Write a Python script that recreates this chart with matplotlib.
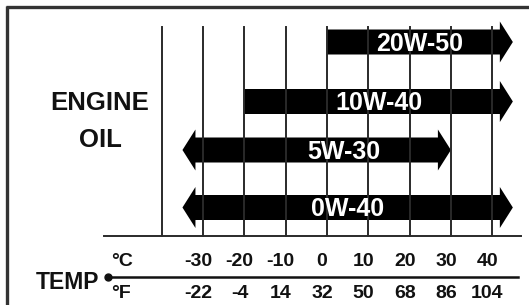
import matplotlib
matplotlib.use("Agg")
import matplotlib.pyplot as plt

# oil grades and their temperature ranges (deg C)
grades = ["20W-50", "10W-40", "5W-30", "0W-40"]
low_c = [0, -20, -35, -35]
high_c = [45, 45, 30, 45]
left_arrow = [False, False, True, True]

grid_c = [-40, -30, -20, -10, 0, 10, 20, 30, 40]
c_ticks = [-30, -20, -10, 0, 10, 20, 30, 40]
c_labels = ["-30", "-20", "-10", "0", "10", "20", "30", "40"]
f_labels = ["-22", "-4", "14", "32", "50", "68", "86", "104"]

W, H = 529, 305
PX0, PXC = 327.0, 4.13   # pixel x of 0 C, pixels per degree

sans = "Liberation Sans"

fig = plt.figure(figsize=(W / 100, H / 100), dpi=100)
ax = fig.add_axes([0, 0, 1, 1])
ax.set_xlim((0 - PX0) / PXC, (W - PX0) / PXC)
ax.set_ylim(H, 0)
ax.axis("off")

def px(x):
    return (x - PX0) / PXC

ink = "#111111"
line = "#2a2a2a"

# frame (top and left edges)
ax.plot([px(6), px(W)], [6.5, 6.5], color="#333333", lw=2.4, solid_capstyle="butt")
ax.plot([px(6.5), px(6.5)], [6, H], color="#333333", lw=2.4, solid_capstyle="butt")

# grid lines
for c in grid_c:
    ax.plot([c, c], [27, 236], color=line, lw=1.4)
ax.plot([px(104), px(521)], [236, 236], color=line, lw=1.4)

# arrows
bar_y = [42, 101.5, 150, 207.5]
half_bar, half_head = 12.5, 20.5
head = 13 / PXC
label_nudge = {"5W-30": 6.5}
for g, lo, hi, la, y in zip(grades, low_c, high_c, left_arrow, bar_y):
    xs = [hi - head, hi - head, hi, hi - head, hi - head]
    ys = [y - half_bar, y - half_head, y, y + half_head, y + half_bar]
    if la:
        xs += [lo + head, lo + head, lo, lo + head, lo + head]
        ys += [y + half_bar, y + half_head, y, y - half_head, y - half_bar]
    else:
        xs += [lo, lo]
        ys += [y + half_bar, y - half_bar]
    ax.fill(xs, ys, color="black", lw=0)
    xm = (lo + hi) / 2 + label_nudge.get(g, 0)
    ax.text(xm, y + 9, g, color="white", fontsize=18, fontweight="bold",
            family=sans, ha="center", va="baseline")

# left titles
ax.text(px(100), 110, "ENGINE", fontsize=18.5, fontweight="bold", family=sans,
        color=ink, ha="center", va="baseline")
ax.text(px(100), 147, "OIL", fontsize=18.5, fontweight="bold", family=sans,
        color=ink, ha="center", va="baseline")

# temperature scale
ax.plot([px(108), px(518)], [276.7, 276.7], color=ink, lw=1.8)
ax.plot([px(108)], [276.7], "o", color=ink, ms=5)
ax.text(px(36), 289, "TEMP", fontsize=16.5, fontweight="bold", family=sans,
        color=ink, ha="left", va="baseline")
ax.text(px(111), 266.5, "°C", fontsize=14, fontweight="bold", family=sans,
        color=ink, ha="left", va="baseline")
ax.text(px(111), 298, "°F", fontsize=14, fontweight="bold", family=sans,
        color=ink, ha="left", va="baseline")
for c, cl, fl in zip(c_ticks, c_labels, f_labels):
    ax.text(c - 1.2, 266.5, cl, fontsize=14, fontweight="bold", family=sans,
            color=ink, ha="center", va="baseline")
    ax.text(c - 1.2, 298, fl, fontsize=14, fontweight="bold", family=sans,
            color=ink, ha="center", va="baseline")

fig.savefig("out.png", dpi=100, facecolor="white")
